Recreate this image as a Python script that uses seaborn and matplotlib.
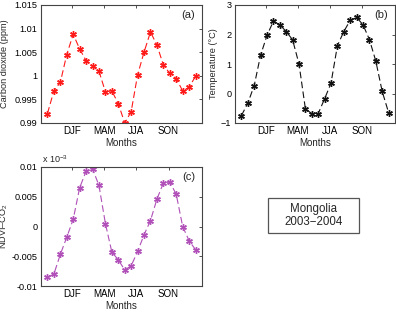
import matplotlib
matplotlib.use("Agg")
import matplotlib.pyplot as plt
import seaborn as sns
import numpy as np
import pandas as pd
from matplotlib.patches import Rectangle

sns.set_style("white")
plt.rcParams['font.family'] = ['Liberation Sans', 'DejaVu Sans']
plt.rcParams['mathtext.fontset'] = 'custom'
plt.rcParams['mathtext.rm'] = 'Liberation Sans'

month_idx = list(range(1, 25))
season_labels = ["DJF", "MAM", "JJA", "SON"]

co2 = [0.9920, 0.9968, 0.9986, 1.0045, 1.0088, 1.0057, 1.0032, 1.0020,
       1.0010, 0.9966, 0.9968, 0.9941, 0.9900, 0.9924, 1.0002, 1.0050,
       1.0093, 1.0065, 1.0023, 1.0005, 0.9994, 0.9968, 0.9976, 0.9999]

temp = [-0.75, -0.33, 0.27, 1.30, 1.97, 2.45, 2.33, 2.10, 1.82, 1.00,
        -0.52, -0.68, -0.68, -0.18, 0.35, 1.62, 2.10, 2.48, 2.58, 2.33,
        1.83, 1.10, 0.07, -0.65]

ndvi = [-0.0085, -0.0080, -0.0047, -0.0018, 0.0012, 0.0065, 0.0093, 0.0097,
        0.0069, 0.0005, -0.0043, -0.0056, -0.0073, -0.0066, -0.0042, -0.0014,
        0.0010, 0.0046, 0.0073, 0.0075, 0.0054, 0.0000, -0.0024, -0.0039]

co2_ticks = [0.99, 0.995, 1.0, 1.005, 1.01, 1.015]
co2_ticklabels = ["0.99", "0.995", "1", "1.005", "1.01", "1.015"]
temp_ticks = [-1, 0, 1, 2, 3]
temp_ticklabels = ["\u22121", "0", "1", "2", "3"]
ndvi_ticks = [-0.01, -0.005, 0, 0.005, 0.01]
ndvi_ticklabels = ["-0.01", "-0.005", "0", "0.005", "0.01"]

fig = plt.figure(figsize=(3.96, 3.13), dpi=100)
W, H = 396, 313

def add_ax(x0, y0, x1, y1):
    return fig.add_axes([x0 / W, 1 - y1 / H, (x1 - x0) / W, (y1 - y0) / H])

axa = add_ax(41, 5, 202, 123)
axb = add_ax(235, 5, 395, 123)
axc = add_ax(41, 167, 202, 286)

fs = 6.6
star = (6, 2, 0)

def panel(ax, y, color, ylim, ticks, ticklabels, ylabel, tag, label_x):
    df = pd.DataFrame({"m": month_idx, "v": y})
    sns.lineplot(data=df, x="m", y="v", ax=ax, color=color, linestyle=(0, (6, 3)),
                 linewidth=0.8, marker=star, markersize=4.8, markeredgewidth=1.0,
                 markeredgecolor=color, markerfacecolor=color)
    ax.set_xlim(0, 25)
    ax.set_ylim(*ylim)
    ax.set_xticks([4.8, 9.8, 14.8, 19.8])
    ax.set_xticklabels(season_labels, fontsize=fs + 0.4)
    ax.set_yticks(ticks)
    ax.set_yticklabels(ticklabels, fontsize=fs)
    ax.tick_params(direction="in", length=2.5, width=0.6, colors="#333333",
                   top=True, right=True, pad=2.5, labelcolor="black")
    ax.set_xlabel("Months", fontsize=fs + 0.4, labelpad=1)
    ax.set_ylabel(ylabel, fontsize=fs)
    ax.yaxis.set_label_coords(label_x, 0.5)
    for s in ax.spines.values():
        s.set_color("#444444")
        s.set_linewidth(0.8)
    ax.text(0.915, 0.915, tag, transform=ax.transAxes, fontsize=8,
            ha="center", va="center")

panel(axa, co2, "#ff1a1a", (0.99, 1.015), co2_ticks, co2_ticklabels,
      "Carbon dioxide (ppm)", "(a)", -0.198)
panel(axb, temp, "#111111", (-1, 3), temp_ticks, temp_ticklabels,
      "Temperature (\u00b0C)", "(b)", -0.108)
panel(axc, ndvi, "#b050b8", (-0.01, 0.01), ndvi_ticks, ndvi_ticklabels,
      "NDVI\u2013CO$_2$", "(c)", -0.19)

fig.text(42 / W, 1 - 159 / H, "x 10$^{-3}$", fontsize=6.5, ha="left", va="center")

fig.patches.append(Rectangle((268 / W, 1 - 233 / H), 91 / W, 35 / H,
                             transform=fig.transFigure, fill=False,
                             edgecolor="#555555", linewidth=0.9))
fig.text(313.5 / W, 1 - 215.5 / H, "Mongolia\n2003\u22122004", fontsize=8.3,
         ha="center", va="center", linespacing=1.15)

fig.savefig("out.png", dpi=100)
